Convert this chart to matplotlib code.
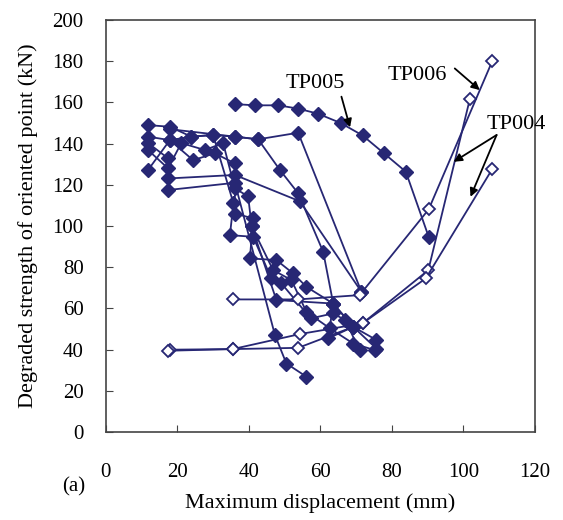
import matplotlib
matplotlib.use("Agg")
import matplotlib.pyplot as plt

plt.rcParams['font.family'] = ['Liberation Serif', 'DejaVu Serif']

navy = '#272774'

# --- data ---
# TP005 (filled, labelled)
tp005_x = [36.0, 41.7, 48.2, 53.8, 59.4, 65.7, 71.8, 77.8, 83.9, 90.3]
tp005_y = [159.2, 158.6, 158.6, 157.0, 154.5, 150.0, 144.0, 135.3, 126.4, 94.8]

# other filled specimens
s1_x = [11.8, 17.9, 23.9, 30.0, 36.1, 42.6, 53.8, 71.5]
s1_y = [127.2, 141.7, 143.4, 144.2, 143.4, 142.1, 145.3, 68.1]

s2_x = [11.8, 17.4, 17.4, 36.1, 54.3, 71.5]
s2_y = [140.3, 132.9, 123.1, 124.8, 112.0, 68.1]

s3_x = [11.8, 17.9, 24.4, 30.5, 36.1, 36.1, 41.2, 40.3, 47.7, 52.4, 56.1, 63.6, 69.2, 75.7]
s3_y = [143.4, 141.7, 132.0, 135.3, 130.4, 106.1, 103.7, 84.3, 83.5, 77.0, 70.5, 62.4, 51.1, 44.7]

s4_x = [11.8, 17.4, 21.1, 27.7, 32.8, 36.1, 39.8, 40.8, 46.8, 51.9, 56.1, 62.7, 69.2, 75.2]
s4_y = [136.9, 128.0, 140.3, 136.9, 140.3, 118.3, 114.4, 99.8, 78.6, 73.8, 58.4, 50.3, 43.0, 39.8]

s5_x = [11.8, 17.9, 23.9, 30.0, 35.7, 34.7, 41.2, 46.3, 49.1, 57.3, 63.6, 66.9, 71.0]
s5_y = [149.0, 148.2, 143.4, 144.2, 111.0, 95.6, 94.8, 74.6, 72.2, 55.2, 57.6, 54.4, 39.8]

s6_x = [17.9, 36.1, 42.6, 48.7, 53.8, 60.8, 63.6, 62.2, 69.2]
s6_y = [147.0, 143.4, 142.1, 127.2, 115.9, 87.5, 62.4, 45.5, 51.1]

s7_x = [17.4, 36.1, 47.3, 50.5, 56.1]
s7_y = [117.5, 121.0, 47.1, 33.3, 26.9]

s8_x = [40.8, 47.7, 63.6, 69.2, 75.7]
s8_y = [99.8, 64.1, 62.4, 51.1, 40.5]

# open-marker specimens
tp006_x = [35.6, 53.8, 71.0, 90.3, 108.1]
tp006_y = [64.4, 64.4, 66.5, 108.1, 180.1]

tp004a_x = [18.0, 35.5, 54.3, 71.8, 90.2, 101.8]
tp004a_y = [40.0, 40.3, 47.6, 52.8, 78.6, 161.5]

tp004b_x = [17.5, 35.5, 53.8, 71.8, 89.5, 108.1]
tp004b_y = [39.5, 40.3, 40.9, 52.8, 74.6, 127.7]

fig = plt.figure(figsize=(5.63, 5.20), dpi=100)
ax = fig.add_axes([0.188, 0.169, 0.762, 0.7925])

filled = [(tp005_x, tp005_y), (s1_x, s1_y), (s2_x, s2_y), (s3_x, s3_y),
          (s4_x, s4_y), (s5_x, s5_y), (s6_x, s6_y), (s7_x, s7_y), (s8_x, s8_y)]
for xs, ys in filled:
    ax.plot(xs, ys, '-D', color=navy, lw=1.3, ms=7, mec=navy, mfc=navy)

for xs, ys in [(tp006_x, tp006_y), (tp004a_x, tp004a_y), (tp004b_x, tp004b_y)]:
    ax.plot(xs, ys, '-D', color=navy, lw=1.3, ms=6.5, mec=navy, mfc='white',
            mew=1.3, zorder=3)

ax.set_xlim(0, 120)
ax.set_ylim(0, 200)
ax.set_xticks(range(0, 121, 20))
ax.set_yticks(range(0, 201, 20))
ax.tick_params(direction='in', length=5, labelsize=15, color='#444444')
ax.tick_params(axis='x', pad=22)
ax.tick_params(axis='y', pad=16)
for sp in ax.spines.values():
    sp.set_color('#444444')
    sp.set_linewidth(1.2)

ax.set_xlabel('Maximum displacement (mm)', fontsize=16, labelpad=8)
ax.set_ylabel('Degraded strength of oriented point (kN)', fontsize=16, labelpad=10)

arrow = dict(arrowstyle='-|>', color='black', lw=1.3, mutation_scale=12,
             shrinkA=0, shrinkB=0)
ax.text(58.5, 169, 'TP005', fontsize=16, ha='center', va='center')
ax.annotate('', xy=(68.3, 147.9), xytext=(65.9, 162.8), arrowprops=arrow)
ax.text(87.1, 173.3, 'TP006', fontsize=16, ha='center', va='center')
ax.annotate('', xy=(104.6, 166.0), xytext=(97.6, 176.5), arrowprops=arrow)
ax.text(114.9, 149.2, 'TP004', fontsize=16, ha='center', va='center', clip_on=False)
ax.annotate('', xy=(97.3, 131.2), xytext=(109.3, 144.2), arrowprops=arrow)
ax.annotate('', xy=(102.0, 114.2), xytext=(109.3, 144.2), arrowprops=arrow)

fig.text(0.11, 0.063, '(a)', fontsize=15, ha='left', va='center')

fig.savefig('out.png', dpi=100)
